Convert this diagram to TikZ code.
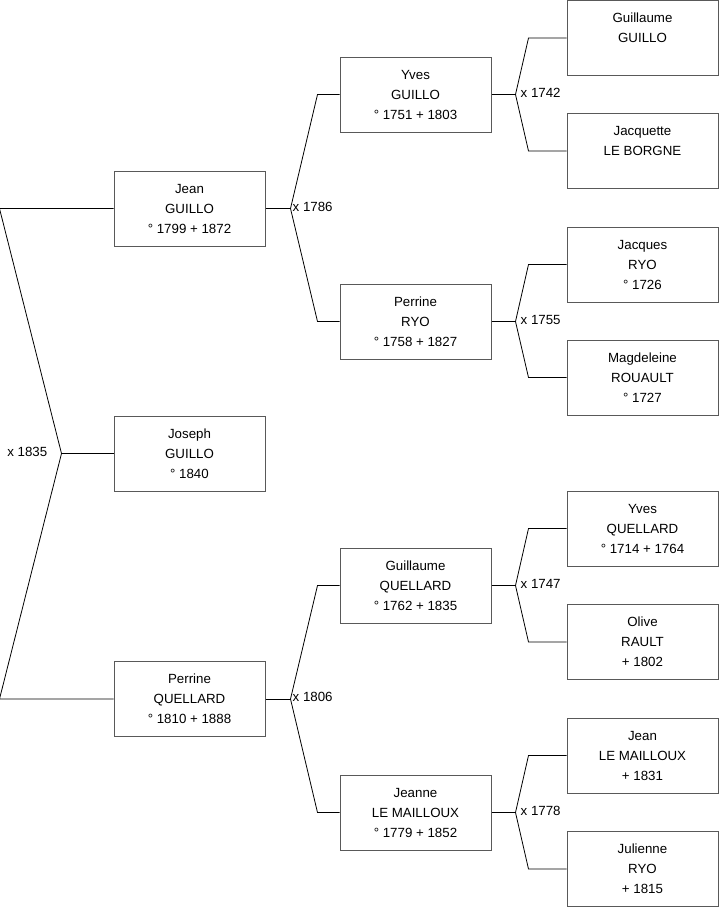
\documentclass[tikz,border=0pt]{standalone}
\usepackage{fontspec}
\setmainfont{Liberation Sans}
\usetikzlibrary{positioning,calc}

\begin{document}
\begin{tikzpicture}[
  x=1pt, y=-1pt,
  person/.style={draw=black!65, line width=1pt, minimum width=151pt, minimum height=75pt, align=center, inner sep=0pt, font=\fontsize{13.3}{20}\selectfont},
  link/.style={line width=0.8pt, black},
  union/.style={font=\fontsize{13.3}{16}\selectfont, inner sep=2pt}
]
\useasboundingbox (0,0) rectangle (719,908);

% generation 0 and 1
\node[person] (joseph) at (189.5,453.5) {Joseph\\GUILLO\\° 1840};
\node[person] (jean) at (189.5,208.5) {Jean\\GUILLO\\° 1799 + 1872};
\node[person] (perrineQ) at (189.5,699) {Perrine\\QUELLARD\\° 1810 + 1888};

% generation 2
\node[person] (yves) at (415.5,94.5) {Yves\\GUILLO\\° 1751 + 1803};
\node[person] (perrineR) at (415.5,321.5) {Perrine\\RYO\\° 1758 + 1827};
\node[person] (guillaumeQ) at (415.5,585.5) {Guillaume\\QUELLARD\\° 1762 + 1835};
\node[person] (jeanne) at (415.5,812.5) {Jeanne\\LE MAILLOUX\\° 1779 + 1852};

% generation 3
\node[person] (guillaumeG) at (642.5,38) {Guillaume\\GUILLO\\~};
\node[person] (jacquette) at (642.5,151) {Jacquette\\LE BORGNE\\~};
\node[person] (jacques) at (642.5,264.5) {Jacques\\RYO\\° 1726};
\node[person] (magdeleine) at (642.5,377.5) {Magdeleine\\ROUAULT\\° 1727};
\node[person] (yvesQ) at (642.5,528.5) {Yves\\QUELLARD\\° 1714 + 1764};
\node[person] (olive) at (642.5,642) {Olive\\RAULT\\+ 1802};
\node[person] (jeanLM) at (642.5,755.5) {Jean\\LE MAILLOUX\\+ 1831};
\node[person] (julienne) at (642.5,869) {Julienne\\RYO\\+ 1815};

% parents of Joseph
\coordinate (m0) at ($(joseph.west)+(-52,0)$);
\draw[link] (jean.west) -- ($(jean.west)+(-114,0)$) -- (m0) -- ($(perrineQ.west)+(-114,0)$) -- (perrineQ.west);
\draw[link] (m0) -- (joseph.west);
\node[union, anchor=east] at ($(m0)+(-12,-2)$) {x 1835};

% parents of the second generation
\foreach \child/\father/\mother/\year in {jean/yves/perrineR/1786, perrineQ/guillaumeQ/jeanne/1806} {
  \coordinate (m-\child) at ($(\child.east)+(25,0)$);
  \draw[link] (\child.east) -- (m-\child);
  \draw[link] (\father.west) -- ($(\father.west)+(-22,0)$) -- (m-\child) -- ($(\mother.west)+(-22,0)$) -- (\mother.west);
  \node[union, anchor=west] at ($(m-\child)+(0,-2)$) {x \year};
}

% parents of the third generation
\foreach \child/\father/\mother/\year in {yves/guillaumeG/jacquette/1742, perrineR/jacques/magdeleine/1755, guillaumeQ/yvesQ/olive/1747, jeanne/jeanLM/julienne/1778} {
  \coordinate (m-\child) at ($(\child.east)+(24,0)$);
  \draw[link] (\child.east) -- (m-\child);
  \draw[link] (\father.west) -- ($(\father.west)+(-38,0)$) -- (m-\child) -- ($(\mother.west)+(-38,0)$) -- (\mother.west);
  \node[union, anchor=west] at ($(m-\child)+(3,-2)$) {x \year};
}

\end{tikzpicture}
\end{document}
